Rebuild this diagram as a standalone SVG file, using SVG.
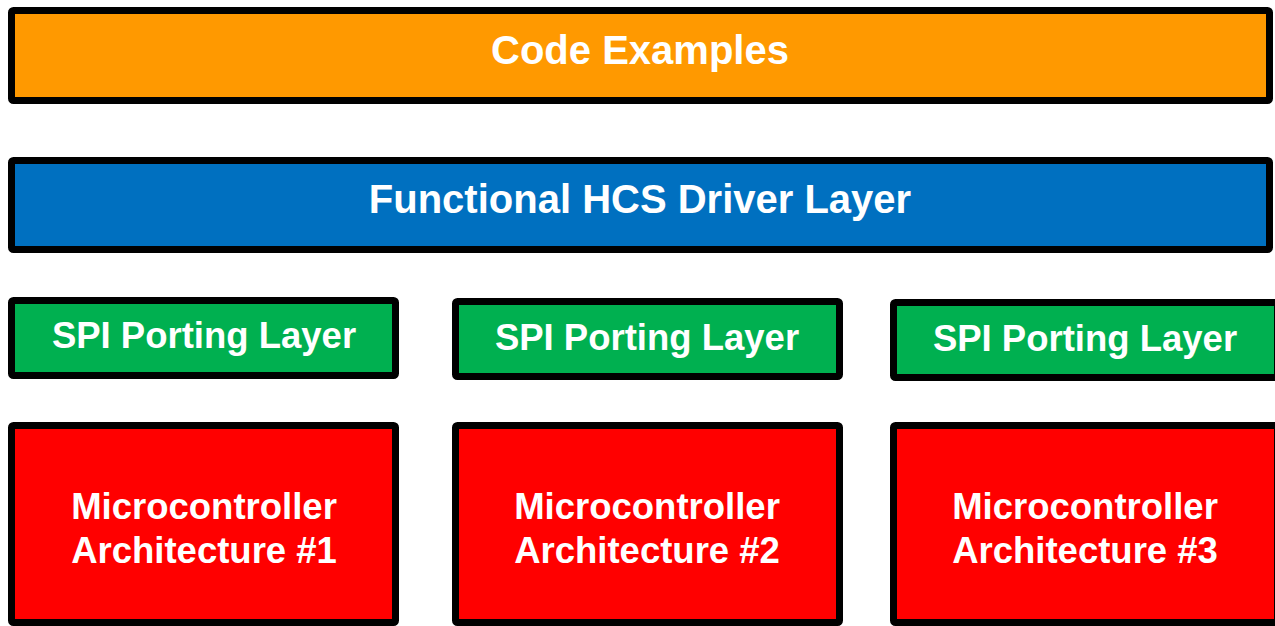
<svg xmlns="http://www.w3.org/2000/svg" width="1275" height="626" viewBox="0 0 1275 626">
<style>
.box{stroke:#000;stroke-width:7;stroke-linejoin:round}
.t{font-family:"Liberation Sans",Arial,sans-serif;font-weight:bold;fill:#fff;text-anchor:middle}
.big{font-size:40px}
.mid{font-size:36.5px}
</style>
<rect width="1275" height="626" fill="#fff"/>
<g id="code-examples">
<rect class="box" x="11.5" y="10.5" width="1258" height="90" fill="#FF9900" rx="2"/>
<text class="t big" x="640" y="64">Code Examples</text>
</g>
<g id="hcs-driver">
<rect class="box" x="11.5" y="160.5" width="1258" height="89" fill="#0070C0" rx="2"/>
<text class="t big" x="640" y="213">Functional HCS Driver Layer</text>
</g>
<g id="spi1">
<rect class="box" x="11.5" y="300.5" width="384" height="75" fill="#00B050" rx="2"/>
<text class="t mid" x="204" y="348">SPI Porting Layer</text>
</g>
<g id="spi2">
<rect class="box" x="455.5" y="301.5" width="384" height="75" fill="#00B050" rx="2"/>
<text class="t mid" x="647" y="350">SPI Porting Layer</text>
</g>
<g id="spi3">
<rect class="box" x="893.5" y="302.5" width="384" height="75" fill="#00B050" rx="2"/>
<text class="t mid" x="1085" y="351">SPI Porting Layer</text>
</g>
<g id="mcu1">
<rect class="box" x="11.5" y="425.5" width="384" height="197" fill="#FF0000" rx="2"/>
<text class="t mid" x="204" y="519">Microcontroller</text>
<text class="t mid" x="204" y="563">Architecture #1</text>
</g>
<g id="mcu2">
<rect class="box" x="455.5" y="425.5" width="384" height="197" fill="#FF0000" rx="2"/>
<text class="t mid" x="647" y="519">Microcontroller</text>
<text class="t mid" x="647" y="563">Architecture #2</text>
</g>
<g id="mcu3">
<rect class="box" x="893.5" y="425.5" width="384" height="197" fill="#FF0000" rx="2"/>
<text class="t mid" x="1085" y="519">Microcontroller</text>
<text class="t mid" x="1085" y="563">Architecture #3</text>
</g>
<g id="connectors"></g>
</svg>
